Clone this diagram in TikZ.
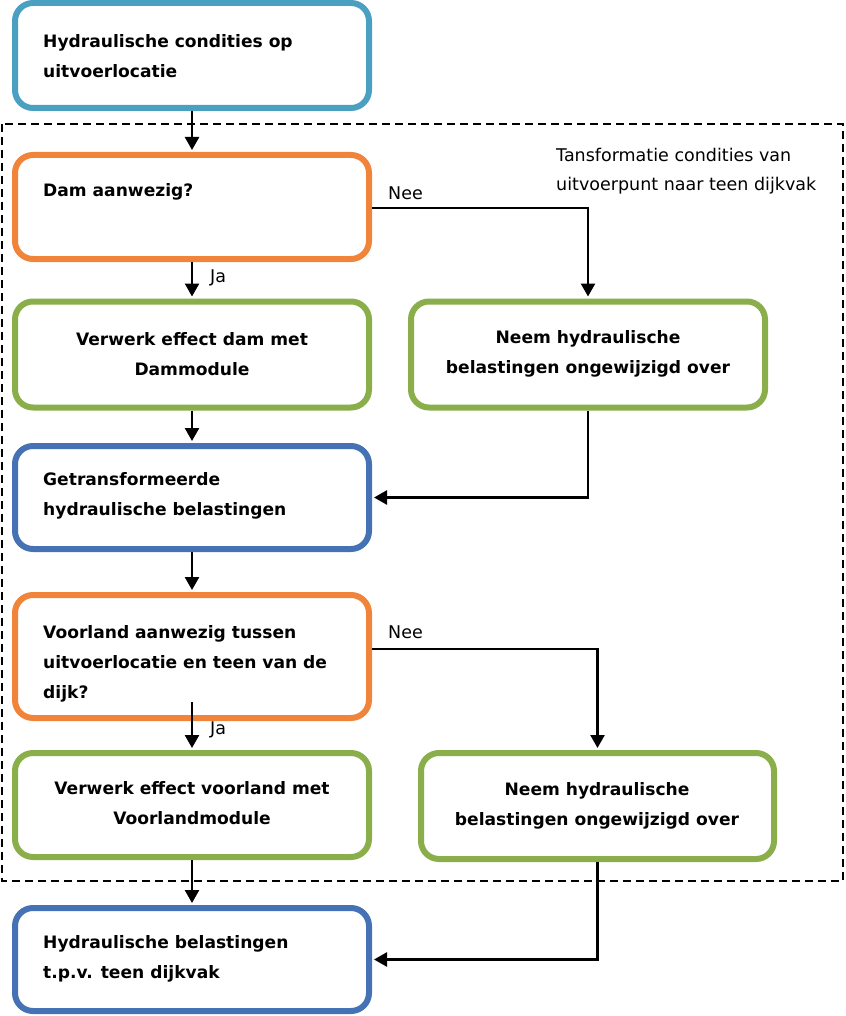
\documentclass[tikz,border=0pt]{standalone}
\usepackage{fontspec}
\setmainfont{DejaVu Sans}
\usetikzlibrary{arrows.meta}
\definecolor{cteal}{RGB}{74,160,192}
\definecolor{corange}{RGB}{240,132,58}
\definecolor{cgreen}{RGB}{138,174,74}
\definecolor{cblue}{RGB}{68,114,180}
\tikzset{
  box/.style={draw=#1, line width=6pt, rounded corners=18pt, minimum width=354pt, inner sep=0pt, fill=white},
  btxt/.style={font=\bfseries\fontsize{17.1}{30}\selectfont, align=left, inner sep=0pt},
  ctxt/.style={font=\bfseries\fontsize{17.1}{30}\selectfont, align=center, inner sep=0pt},
  rtxt/.style={font=\fontsize{17.5}{29}\selectfont, align=left, inner sep=0pt},
  conn/.style={line width=2.5pt, -{Triangle[width=14pt,length=13pt]}, shorten >=2pt},
}
\begin{document}
\begin{tikzpicture}[x=1pt,y=-1pt]
\useasboundingbox (0,0) rectangle (845,1016);
\draw[line width=2pt, dash pattern=on 8pt off 5pt] (2,124) rectangle (843,881);

\node[box=cteal, minimum height=105pt] (b1) at (192,55.5) {};
\node[box=corange, minimum height=104pt] (b2) at (192,207) {};
\node[box=cgreen, minimum height=106pt] (b3) at (192,354.5) {};
\node[box=cgreen, minimum height=106pt] (b4) at (588,354.5) {};
\node[box=cblue, minimum height=103pt] (b5) at (192,497.5) {};
\node[box=corange, minimum height=123pt] (b6) at (192,656.5) {};
\node[box=cgreen, minimum height=104pt] (b7) at (192,805) {};
\node[box=cgreen, minimum height=106pt, minimum width=353pt] (b8) at (597.5,806) {};
\node[box=cblue, minimum height=103pt] (b9) at (192,959.5) {};

\node[btxt, anchor=west] (t1) at (43,56.5) {Hydraulische condities op\\uitvoerlocatie};
\node[btxt, anchor=west] (t2) at (43,192) {Dam aanwezig?};
\node[ctxt] (t3) at (192,354) {Verwerk effect dam met\\Dammodule};
\node[ctxt] (t4) at (588,354) {Neem hydraulische\\belastingen ongewijzigd over};
\node[btxt, anchor=west] (t5) at (43,496) {Getransformeerde\\hydraulische belastingen};
\node[btxt, anchor=west] (t6) at (43,664) {Voorland aanwezig tussen\\uitvoerlocatie en teen van de\\dijk?};
\node[ctxt] (t7) at (192,803.5) {Verwerk effect voorland met\\Voorlandmodule};
\node[ctxt] (t8) at (597,805.5) {Neem hydraulische\\belastingen ongewijzigd over};
\node[btxt, anchor=west] (t9) at (43,958.5) {Hydraulische belastingen\\t.p.v. teen dijkvak};

\node[rtxt, anchor=west] (ann) at (556,171.5) {Tansformatie condities van\\uitvoerpunt naar teen dijkvak};
\node[rtxt, anchor=west] (nee1) at (388,193) {Nee};
\node[rtxt, anchor=west] (ja1) at (210,278) {Ja};
\node[rtxt, anchor=west] (nee2) at (388,632) {Nee};
\node[rtxt, anchor=west] (ja2) at (210,730) {Ja};

\draw[conn] (b1.south) -- (b2.north);
\draw[conn] (b2.south) -- (b3.north);
\draw[conn] (b2.east |- 0,208) -| (b4.north);
\draw[conn] (b3.south) -- (b5.north);
\draw[conn] (b4.south) |- (b5.east);
\draw[conn] (b5.south) -- (b6.north);
\draw[conn] ([yshift=19pt]b6.south) -- (b7.north);
\draw[conn] (b6.east |- 0,649) -| (b8.north);
\draw[conn] (b7.south) -- (b9.north);
\draw[conn] (b8.south) |- (b9.east);
\end{tikzpicture}
\end{document}
